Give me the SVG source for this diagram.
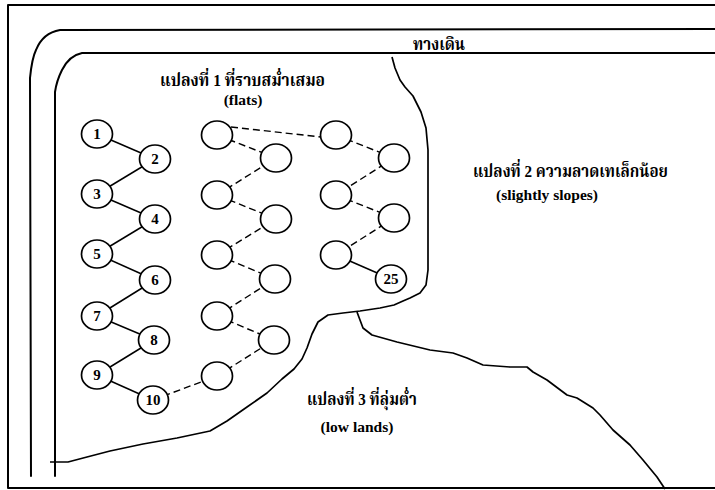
<svg xmlns="http://www.w3.org/2000/svg" width="715" height="490" viewBox="0 0 715 490">
<style>
.bd{fill:none;stroke:#000;stroke-width:2;stroke-linejoin:round;stroke-linecap:round}
.edge{fill:none;stroke:#000;stroke-width:1.7;stroke-linejoin:round}
.s{stroke:#000;stroke-width:1.5;fill:none}
.d{stroke:#000;stroke-width:1.4;fill:none;stroke-dasharray:7 4}
.n ellipse{fill:#fff;stroke:#000;stroke-width:1.7}
.n text{font-family:'Liberation Serif','Times New Roman',serif;font-weight:bold;font-size:15px;text-anchor:middle;fill:#000}
.lbl{font-family:'Liberation Serif','Noto Serif Thai','Noto Sans Thai','DejaVu Sans',serif;font-weight:bold;font-size:17px;fill:#000}
.en{font-family:'Liberation Serif','Times New Roman',serif;font-weight:bold;font-size:15.5px;text-anchor:middle;fill:#000}
</style>
<rect width="715" height="490" fill="#fff"/>
<g id="frame">
<path class="bd" d="M716,5 H8 V488 H716"/>
</g>
<g id="walkway">
<path class="bd" d="M716,29 L60,30 C48,32 40,40 36,50 C32,58 31,68 30,78 L31,476"/>
<path class="bd" d="M716,53 L82,53 C72,55 66,62 62,70 C58,78 56,85 55,92 L55,476"/>
<text class="lbl" x="413" y="50" textLength="52" lengthAdjust="spacingAndGlyphs">ทางเดิน</text>
</g>
<g id="plot-boundaries">
<path class="edge" d="M50,462 L68,462 L87,457 L110,451 L143,444 L177,438 L210,431 L227,421 L247,407 L267,393 L282,379 L294,369 L302,359 L307,348 L312,334 L318,322 L328,315 L343,313 L360,311 L380,308 L394,305 L403,301 L410,298 L420,293 L426,285 L428,270 L428,200 L428,150 L426,128 L421,112 L413,96 L405,87 L400,80 L395,68 L392,57"/>
<path class="edge" d="M357,312 L363,328 L372,335 L397,342 L430,350 L453,353 L467,358 L483,365 L510,367 L527,367 L533,372 L547,380 L567,395 L577,398 L593,408 L600,415 L613,430 L630,445 L643,460 L657,477 L665,489"/>
</g>
<g id="connectors">
<line class="s" x1="97" y1="134" x2="155" y2="159"/>
<line class="s" x1="155" y1="159" x2="97" y2="194"/>
<line class="s" x1="97" y1="194" x2="155" y2="219"/>
<line class="s" x1="155" y1="219" x2="97" y2="254"/>
<line class="s" x1="97" y1="254" x2="155" y2="280"/>
<line class="s" x1="155" y1="280" x2="97" y2="316"/>
<line class="s" x1="97" y1="316" x2="154" y2="340"/>
<line class="s" x1="154" y1="340" x2="97" y2="375"/>
<line class="s" x1="97" y1="375" x2="153" y2="400"/>
<line class="d" x1="153" y1="400" x2="217" y2="376"/>
<line class="d" x1="217" y1="376" x2="274" y2="340"/>
<line class="d" x1="274" y1="340" x2="217" y2="316"/>
<line class="d" x1="217" y1="316" x2="275" y2="279"/>
<line class="d" x1="275" y1="279" x2="217" y2="255"/>
<line class="d" x1="217" y1="255" x2="276" y2="219"/>
<line class="d" x1="276" y1="219" x2="217" y2="195"/>
<line class="d" x1="217" y1="195" x2="276" y2="158"/>
<line class="d" x1="276" y1="158" x2="217" y2="135"/>
<line class="d" x1="231" y1="127" x2="321" y2="137"/>
<line class="d" x1="336" y1="135" x2="394" y2="158"/>
<line class="d" x1="394" y1="158" x2="336" y2="195"/>
<line class="d" x1="336" y1="195" x2="394" y2="218"/>
<line class="d" x1="394" y1="218" x2="336" y2="255"/>
<line class="s" x1="336" y1="255" x2="391" y2="279"/>
</g>
<g id="n1" class="n"><ellipse cx="97" cy="134" rx="15.5" ry="14"/><text x="97" y="139">1</text></g>
<g id="n2" class="n"><ellipse cx="155" cy="159" rx="15.5" ry="14"/><text x="155" y="164">2</text></g>
<g id="n3" class="n"><ellipse cx="97" cy="194" rx="15.5" ry="14"/><text x="97" y="199">3</text></g>
<g id="n4" class="n"><ellipse cx="155" cy="219" rx="15.5" ry="14"/><text x="155" y="224">4</text></g>
<g id="n5" class="n"><ellipse cx="97" cy="254" rx="15.5" ry="14"/><text x="97" y="259">5</text></g>
<g id="n6" class="n"><ellipse cx="155" cy="280" rx="15.5" ry="14"/><text x="155" y="285">6</text></g>
<g id="n7" class="n"><ellipse cx="97" cy="316" rx="15.5" ry="14"/><text x="97" y="321">7</text></g>
<g id="n8" class="n"><ellipse cx="154" cy="340" rx="15.5" ry="14"/><text x="154" y="345">8</text></g>
<g id="n9" class="n"><ellipse cx="97" cy="375" rx="15.5" ry="14"/><text x="97" y="380">9</text></g>
<g id="n10" class="n"><ellipse cx="153" cy="400" rx="15.5" ry="14"/><text x="153" y="405">10</text></g>
<g id="a1" class="n"><ellipse cx="217" cy="135" rx="15.5" ry="14"/></g>
<g id="a2" class="n"><ellipse cx="276" cy="158" rx="15.5" ry="14"/></g>
<g id="a3" class="n"><ellipse cx="217" cy="195" rx="15.5" ry="14"/></g>
<g id="a4" class="n"><ellipse cx="276" cy="219" rx="15.5" ry="14"/></g>
<g id="a5" class="n"><ellipse cx="217" cy="255" rx="15.5" ry="14"/></g>
<g id="a6" class="n"><ellipse cx="275" cy="279" rx="15.5" ry="14"/></g>
<g id="a7" class="n"><ellipse cx="217" cy="316" rx="15.5" ry="14"/></g>
<g id="a8" class="n"><ellipse cx="274" cy="340" rx="15.5" ry="14"/></g>
<g id="a9" class="n"><ellipse cx="217" cy="376" rx="15.5" ry="14"/></g>
<g id="b1" class="n"><ellipse cx="336" cy="135" rx="15.5" ry="14"/></g>
<g id="b2" class="n"><ellipse cx="394" cy="158" rx="15.5" ry="14"/></g>
<g id="b3" class="n"><ellipse cx="336" cy="195" rx="15.5" ry="14"/></g>
<g id="b4" class="n"><ellipse cx="394" cy="218" rx="15.5" ry="14"/></g>
<g id="b5" class="n"><ellipse cx="336" cy="255" rx="15.5" ry="14"/></g>
<g id="n25" class="n"><ellipse cx="391" cy="279" rx="15.5" ry="14"/><text x="391" y="284">25</text></g>
<g id="plot1-label">
<text class="lbl" x="160" y="86" textLength="165" lengthAdjust="spacingAndGlyphs">แปลงที่ 1 ที่ราบสม่ำเสมอ</text>
<text class="en" x="243" y="105">(flats)</text>
</g>
<g id="plot2-label">
<text class="lbl" x="473" y="177" textLength="195" lengthAdjust="spacingAndGlyphs">แปลงที่ 2 ความลาดเทเล็กน้อย</text>
<text class="en" x="547" y="200">(slightly slopes)</text>
</g>
<g id="plot3-label">
<text class="lbl" x="307" y="405" textLength="110" lengthAdjust="spacingAndGlyphs">แปลงที่ 3 ที่ลุ่มต่ำ</text>
<text class="en" x="357" y="432">(low lands)</text>
</g>
</svg>
